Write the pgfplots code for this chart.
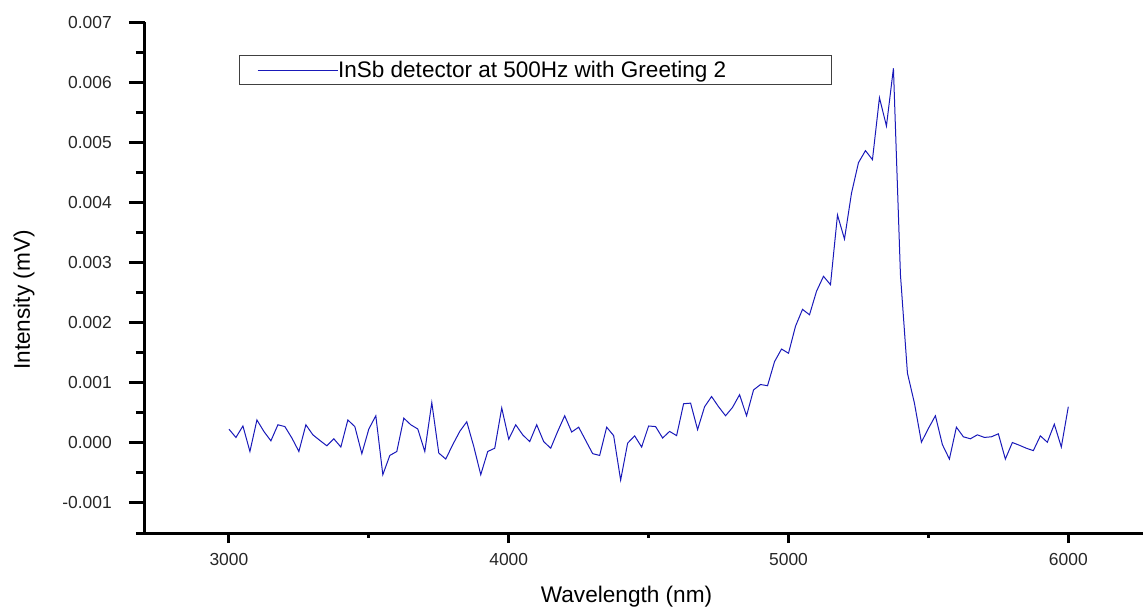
\documentclass[border=0pt]{standalone}
\usepackage{fontspec}
\setmainfont{Liberation Sans}
\usepackage{pgfplots}
\pgfplotsset{compat=1.18}
\definecolor{linecol}{RGB}{25,25,185}
\definecolor{boxcol}{RGB}{64,64,64}
\begin{document}
\begin{tikzpicture}
\begin{axis}[
 at={(0,0)}, anchor=south west,
 scale only axis, width=998bp, height=511bp,
 xmin=2700, xmax=6267, ymin=-0.0015, ymax=0.007,
 axis x line*=bottom, axis y line*=left,
 axis line style={line width=3bp, black},
 tick align=outside,
 xtick={3000,4000,5000,6000}, minor xtick={3500,4500,5500},
 ytick={-0.001,0,0.001,0.002,0.003,0.004,0.005,0.006,0.007},
 minor ytick={-0.0015,-0.0005,0.0005,0.0015,0.0025,0.0035,0.0045,0.0055,0.0065},
 major tick length=16bp, minor tick length=9bp,
 major x tick style={/pgfplots/major tick length=10bp},
 minor x tick style={/pgfplots/minor tick length=5bp},
 tick style={line width=3bp, black},
 scaled y ticks=false,
 /pgf/number format/assume math mode=true,
 /pgf/number format/1000 sep={},
 ticklabel style={font=\fontsize{17.5}{20}\selectfont, text=black!85},
 xticklabel style={anchor=north, inner sep=0pt, yshift=-4bp},
 yticklabel style={anchor=east, inner sep=0pt, xshift=-17bp, /pgf/number format/fixed, /pgf/number format/fixed zerofill, /pgf/number format/precision=3},
 every axis x label/.style={at={(axis description cs:0.4825,0)}, yshift=-64bp, anchor=center, font=\fontsize{22.7}{26}\selectfont},
 every axis y label/.style={at={(axis description cs:0,0.456)}, xshift=-121bp, rotate=90, anchor=center, font=\fontsize{22.7}{26}\selectfont},
 xlabel={Wavelength (nm)},
 ylabel={Intensity (mV)},
 legend style={at={(rel axis cs:0.09419,0.93542)}, anchor=north west, draw=boxcol, line width=1.3bp,
   inner xsep=17.5bp, inner ysep=5.5bp, font=\fontsize{22.6}{26}\selectfont,
   nodes={inner sep=0pt}, column sep=0pt},
 legend image code/.code={\draw[#1] (0bp,0bp) -- (80bp,0bp);},
 legend cell align=left,
]
\addplot[linecol, line width=1bp] table {
x y
3000 0.000228
3025 0.000089
3050 0.00028
3075 -0.000144
3100 0.00038
3125 0.000189
3150 0.000033
3175 0.0003
3200 0.00027
3225 0.00008
3250 -0.000144
3275 0.0003
3300 0.000133
3325 0.00004
3350 -0.00005
3375 0.000067
3400 -0.00007
3425 0.00038
3450 0.00027
3475 -0.00018
3500 0.00023
3525 0.00045
3550 -0.00053
3575 -0.00021
3600 -0.000144
3625 0.00041
3650 0.0003
3675 0.00023
3700 -0.000144
3725 0.00067
3750 -0.00017
3775 -0.00027
3800 -0.00003
3825 0.00019
3850 0.00035
3875 -0.00006
3900 -0.00053
3925 -0.000144
3950 -0.00009
3975 0.00058
4000 0.00006
4025 0.0003
4050 0.000133
4075 0.00002
4100 0.0003
4125 0.00002
4150 -0.00009
4175 0.00019
4200 0.00045
4225 0.00018
4250 0.00026
4275 0.00004
4300 -0.00018
4325 -0.00021
4350 0.00026
4375 0.00012
4400 -0.00062
4425 -0.000005
4450 0.000116
4475 -0.00007
4500 0.00028
4525 0.00027
4550 0.00008
4575 0.00019
4600 0.00012
4625 0.00065
4650 0.00066
4675 0.00022
4700 0.0006
4725 0.00077
4750 0.0006
4775 0.00045
4800 0.00059
4825 0.0008
4850 0.00045
4875 0.00088
4900 0.00097
4925 0.00095
4950 0.00135
4975 0.00156
5000 0.00149
5025 0.00194
5050 0.00222
5075 0.00213
5100 0.00252
5125 0.00277
5150 0.00263
5175 0.00379
5200 0.00339
5225 0.00415
5250 0.00466
5275 0.00486
5300 0.00471
5325 0.00574
5350 0.00527
5375 0.00623
5400 0.0028
5425 0.00116
5450 0.00066
5475 0.00001
5500 0.00024
5525 0.00045
5550 -0.00003
5575 -0.00027
5600 0.00026
5625 0.0001
5650 0.000067
5675 0.000133
5700 0.00009
5725 0.0001
5750 0.00015
5775 -0.00027
5800 0.000005
5825 -0.00004
5850 -0.00009
5875 -0.00013
5900 0.000116
5925 0.00001
5950 0.00031
5975 -0.00007
6000 0.0006
};
\addlegendentry{\makebox[476bp][l]{InSb detector at 500Hz with Greeting 2}}
\end{axis}
\pgfresetboundingbox
\path (-145bp,-79bp) rectangle (998bp,533bp);
\end{tikzpicture}
\end{document}
